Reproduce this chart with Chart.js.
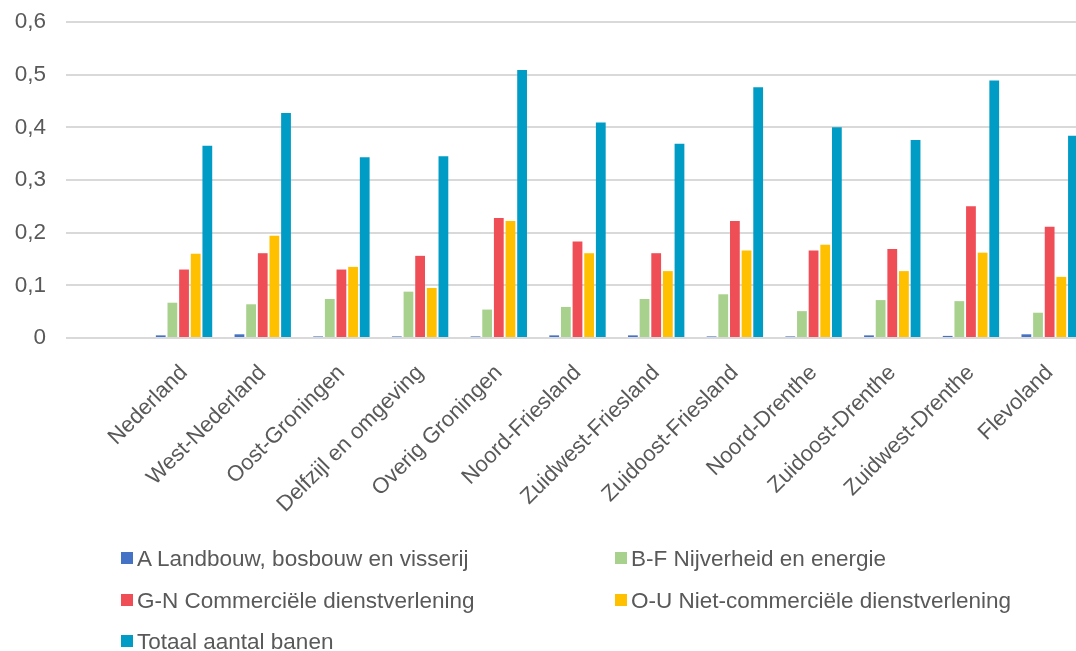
<!DOCTYPE html>
<html>
<head>
<meta charset="utf-8">
<script src="https://cdn.jsdelivr.net/npm/chart.js@4/dist/chart.umd.min.js"></script>
<style>
  html, body { margin: 0; padding: 0; background: #fff; overflow: hidden; }
  #wrap { position: relative; width: 1076px; height: 651px; overflow: hidden; }
  #chart { position: absolute; left: 0; top: 0; }
  #legend { position: absolute; left: 0; top: 0; width: 1076px; height: 651px; font-family: "Liberation Sans", Arial, sans-serif; font-size: 22.5px; color: #595959; }
  .item { position: absolute; white-space: nowrap; line-height: 22px; }
  .box { display: inline-block; width: 12px; height: 12px; margin-right: 4px; vertical-align: 2px; }
</style>
</head>
<body>
<div id="wrap">
  <canvas id="chart" width="1089" height="540"></canvas>
  <div id="legend"></div>
</div>
<script>
// regions (first slot is an empty category, as in the source sheet)
var regions = ["", "Nederland", "West-Nederland", "Oost-Groningen", "Delfzijl en omgeving", "Overig Groningen",
  "Noord-Friesland", "Zuidwest-Friesland", "Zuidoost-Friesland", "Noord-Drenthe", "Zuidoost-Drenthe",
  "Zuidwest-Drenthe", "Flevoland"];

var seriesNames = ["A Landbouw, bosbouw en visserij", "B-F Nijverheid en energie", "G-N Commerciële dienstverlening",
  "O-U Niet-commerciële dienstverlening", "Totaal aantal banen"];
var seriesColors = ["#4472C4", "#A9D18E", "#F04E57", "#FFC000", "#019CC6"];

var landbouw    = [null, 0.005, 0.007, 0.003, 0.003, 0.003, 0.005, 0.005, 0.003, 0.003, 0.005, 0.004, 0.007];
var nijverheid  = [null, 0.067, 0.064, 0.074, 0.088, 0.054, 0.059, 0.074, 0.083, 0.051, 0.072, 0.070, 0.048];
var commercieel = [null, 0.130, 0.161, 0.130, 0.156, 0.228, 0.183, 0.161, 0.222, 0.166, 0.169, 0.250, 0.211];
var nietcomm    = [null, 0.160, 0.194, 0.135, 0.095, 0.222, 0.161, 0.127, 0.166, 0.177, 0.127, 0.162, 0.116];
var totaal      = [null, 0.365, 0.427, 0.343, 0.345, 0.509, 0.409, 0.369, 0.476, 0.400, 0.376, 0.489, 0.384];

var yTicks = [0, 0.1, 0.2, 0.3, 0.4, 0.5, 0.6];

var allData = [landbouw, nijverheid, commercieel, nietcomm, totaal];
var textColor = "#595959";
var fontFam = "'Liberation Sans', Arial, sans-serif";

var datasets = allData.map(function(d, i){
    return {
        label: seriesNames[i],
        data: d,
        backgroundColor: seriesColors[i],
        borderWidth: 0,
        categoryPercentage: 0.74,
        barPercentage: 0.84
    };
});

var myChart = new Chart(document.getElementById("chart"), {
    type: "bar",
    data: { labels: regions, datasets: datasets },
    options: {
        responsive: false,
        animation: false,
        devicePixelRatio: 1,
        layout: { padding: { top: 22, left: 0, right: 0, bottom: 0 } },
        plugins: { legend: { display: false }, tooltip: { enabled: false } },
        scales: {
            x: {
                grid: { display: false },
                border: { display: false },
                ticks: {
                    autoSkip: false, minRotation: 45, maxRotation: 45,
                    color: textColor, font: { family: fontFam, size: 22 }, padding: 14
                },
                afterFit: function(scale){
                    scale.height = 202;
                    scale.paddingLeft = 0; scale.paddingRight = 0;
                }
            },
            y: {
                min: 0, max: 0.6,
                grid: { color: "#D9D9D9", lineWidth: 2, drawTicks: false },
                border: { display: false },
                afterBuildTicks: function(scale){ scale.ticks = yTicks.map(function(v){ return { value: v }; }); },
                ticks: {
                    padding: 20, color: textColor, font: { family: fontFam, size: 22.5 },
                    callback: function(v){ return v === 0 ? "0" : v.toFixed(1).replace(".", ","); }
                },
                afterFit: function(scale){
                    scale.width = 66;
                    scale.paddingTop = 0; scale.paddingBottom = 0;
                }
            }
        }
    }
});

// legend in two columns, like the original sheet
var legendPos = [[121, 548], [615, 548], [121, 589.5], [615, 589.5], [121, 631]];
var html = "";
for (var i = 0; i < seriesNames.length; i++) {
    html += `<div class="item" style="left:${legendPos[i][0]}px;top:${legendPos[i][1]}px"><span class="box" style="background:${seriesColors[i]}"></span>${seriesNames[i]}</div>`;
}
document.getElementById("legend").innerHTML = html;
</script>
</body>
</html>
